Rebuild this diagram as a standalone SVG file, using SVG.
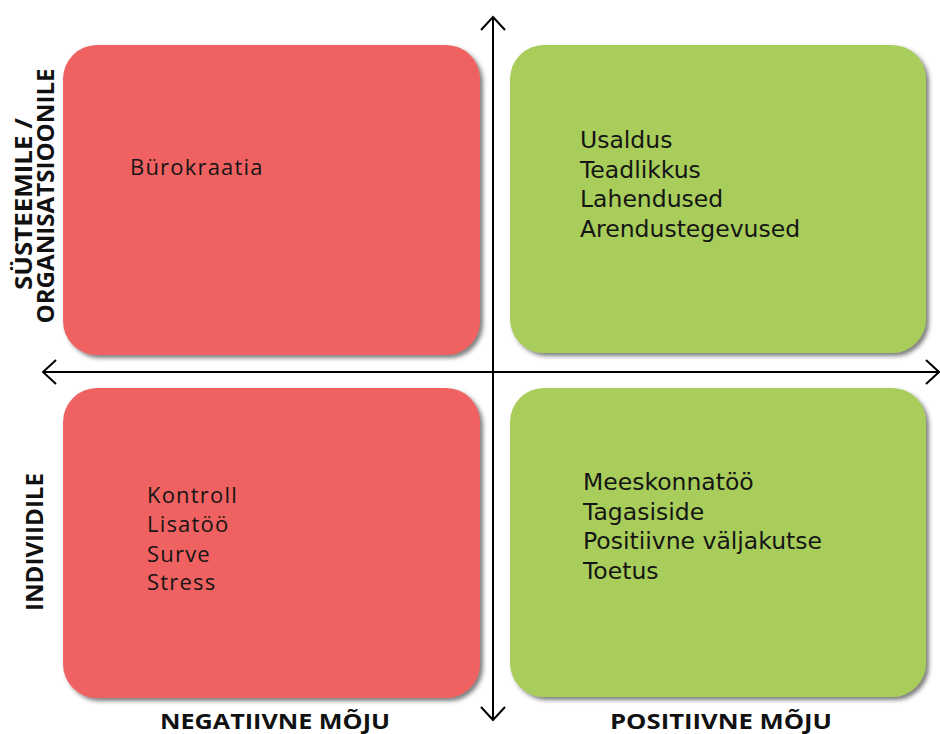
<svg xmlns="http://www.w3.org/2000/svg" width="940" height="734" viewBox="0 0 940 734">
  <style>
    .red { fill: #F06262; }
    .green { fill: #A8CD5A; }
    .box { filter: url(#shadow); }
    .item { font-family: "Open Sans", "DejaVu Sans", sans-serif; font-size: 22px; letter-spacing: 1.2px; fill: #151515; }
    .itemg { font-family: "DejaVu Sans", "Open Sans", sans-serif; font-size: 23.5px; fill: #151515; }
    .axislabel { font-family: "Open Sans", "DejaVu Sans", sans-serif; font-weight: bold; fill: #111; }
    .axis { stroke: #000; stroke-width: 2; fill: none; }
  </style>
  <defs>
    <filter id="shadow" x="-5%" y="-5%" width="115%" height="115%">
      <feDropShadow dx="3" dy="3" stdDeviation="2" flood-color="#444" flood-opacity="0.7"/>
    </filter>
    <marker id="arrow" markerUnits="userSpaceOnUse" markerWidth="30" markerHeight="30" refX="0" refY="0" orient="auto-start-reverse" viewBox="-15 -15 30 30" overflow="visible">
      <path d="M -13 -12 L 0 0 L -13 12" fill="none" stroke="#000" stroke-width="2"/>
    </marker>
  </defs>
  <rect width="940" height="734" fill="#FFFFFF"/>

  <g id="node-top-left">
    <rect class="box red" x="63" y="45" width="417" height="310" rx="34" ry="34"/>
    <text class="item" x="130" y="175" font-size="24" letter-spacing="0.8">Bürokraatia</text>
  </g>

  <g id="node-top-right">
    <rect class="box green" x="510" y="45" width="416" height="308" rx="34" ry="34"/>
    <text class="itemg" x="580" y="148">Usaldus</text>
    <text class="itemg" x="580" y="178">Teadlikkus</text>
    <text class="itemg" x="580" y="207">Lahendused</text>
    <text class="itemg" x="580" y="237">Arendustegevused</text>
  </g>

  <g id="node-bottom-left">
    <rect class="box red" x="63" y="388" width="417" height="310" rx="34" ry="34"/>
    <text class="item" x="147" y="503">Kontroll</text>
    <text class="item" x="147" y="532">Lisatöö</text>
    <text class="item" x="147" y="562">Surve</text>
    <text class="item" x="147" y="590">Stress</text>
  </g>

  <g id="node-bottom-right">
    <rect class="box green" x="510" y="388" width="416" height="309" rx="34" ry="34"/>
    <text class="itemg" x="583" y="490">Meeskonnatöö</text>
    <text class="itemg" x="583" y="520">Tagasiside</text>
    <text class="itemg" x="583" y="549">Positiivne väljakutse</text>
    <text class="itemg" x="583" y="579">Toetus</text>
  </g>

  <g id="connectors">
    <line class="axis" x1="493" y1="720" x2="493" y2="17" marker-start="url(#arrow)" marker-end="url(#arrow)"/>
    <line class="axis" x1="43" y1="372" x2="939" y2="372" marker-start="url(#arrow)" marker-end="url(#arrow)"/>
  </g>

  <g id="axis-labels">
    <text class="axislabel" font-size="23" text-anchor="middle" transform="translate(32,204) rotate(-90)" textLength="172" lengthAdjust="spacingAndGlyphs">SÜSTEEMILE /</text>
    <text class="axislabel" font-size="23" text-anchor="middle" transform="translate(54,196) rotate(-90)" textLength="255" lengthAdjust="spacingAndGlyphs">ORGANISATSIOONILE</text>
    <text class="axislabel" font-size="23" text-anchor="middle" transform="translate(43,542) rotate(-90)" textLength="138" lengthAdjust="spacingAndGlyphs">INDIVIIDILE</text>
    <text class="axislabel" font-size="22" text-anchor="middle" x="275" y="729" textLength="230" lengthAdjust="spacingAndGlyphs">NEGATIIVNE MÕJU</text>
    <text class="axislabel" font-size="22" text-anchor="middle" x="721" y="729" textLength="222" lengthAdjust="spacingAndGlyphs">POSITIIVNE MÕJU</text>
  </g>
</svg>
